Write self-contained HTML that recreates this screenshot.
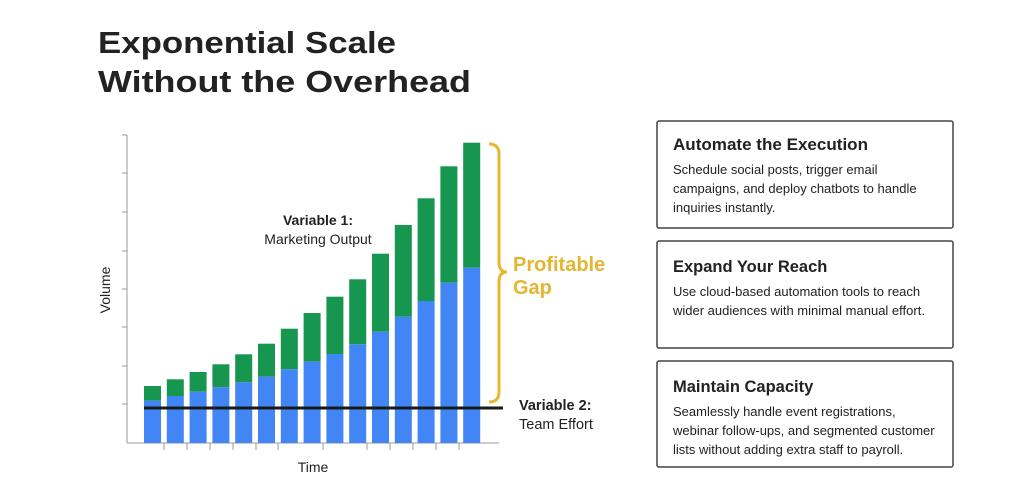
<!DOCTYPE html>
<html><head><meta charset="utf-8"><style>
html,body{margin:0;padding:0;background:#fff;}
svg{display:block;}
text{font-family:"Liberation Sans",sans-serif;}
</style></head><body>
<svg width="1024" height="494" viewBox="0 0 1024 494" xmlns="http://www.w3.org/2000/svg">
<rect width="1024" height="494" fill="#fff"/>
<text x="98" y="53" font-size="31" font-weight="bold" fill="#222" textLength="298" lengthAdjust="spacingAndGlyphs">Exponential Scale</text>
<text x="98" y="92" font-size="31" font-weight="bold" fill="#222" textLength="373" lengthAdjust="spacingAndGlyphs">Without the Overhead</text>
<g stroke="#999" stroke-width="1">
<line x1="127" y1="135" x2="127" y2="443"/>
<line x1="127" y1="443" x2="499" y2="443"/>
<line x1="122" y1="135" x2="127" y2="135"/><line x1="122" y1="173" x2="127" y2="173"/>
<line x1="122" y1="212" x2="127" y2="212"/><line x1="122" y1="251" x2="127" y2="251"/>
<line x1="122" y1="289" x2="127" y2="289"/><line x1="122" y1="327" x2="127" y2="327"/>
<line x1="122" y1="366" x2="127" y2="366"/><line x1="122" y1="404" x2="127" y2="404"/>
</g>
<g>
<rect x="144.0" y="386.0" width="17" height="14.7" fill="#17964f"/><rect x="144.0" y="400.7" width="17" height="42.3" fill="#4285f4"/>
<rect x="166.8" y="379.3" width="17" height="16.7" fill="#17964f"/><rect x="166.8" y="396.0" width="17" height="47.0" fill="#4285f4"/>
<rect x="189.6" y="372.0" width="17" height="19.7" fill="#17964f"/><rect x="189.6" y="391.7" width="17" height="51.3" fill="#4285f4"/>
<rect x="212.4" y="364.3" width="17" height="23.0" fill="#17964f"/><rect x="212.4" y="387.3" width="17" height="55.7" fill="#4285f4"/>
<rect x="235.2" y="354.3" width="17" height="28.0" fill="#17964f"/><rect x="235.2" y="382.3" width="17" height="60.7" fill="#4285f4"/>
<rect x="258.0" y="343.7" width="17" height="33.0" fill="#17964f"/><rect x="258.0" y="376.7" width="17" height="66.3" fill="#4285f4"/>
<rect x="280.8" y="328.7" width="17" height="40.6" fill="#17964f"/><rect x="280.8" y="369.3" width="17" height="73.7" fill="#4285f4"/>
<rect x="303.6" y="313.0" width="17" height="48.7" fill="#17964f"/><rect x="303.6" y="361.7" width="17" height="81.3" fill="#4285f4"/>
<rect x="326.4" y="296.7" width="17" height="57.3" fill="#17964f"/><rect x="326.4" y="354.0" width="17" height="89.0" fill="#4285f4"/>
<rect x="349.2" y="279.3" width="17" height="65.0" fill="#17964f"/><rect x="349.2" y="344.3" width="17" height="98.7" fill="#4285f4"/>
<rect x="372.0" y="253.7" width="17" height="78.0" fill="#17964f"/><rect x="372.0" y="331.7" width="17" height="111.3" fill="#4285f4"/>
<rect x="394.8" y="225.0" width="17" height="91.7" fill="#17964f"/><rect x="394.8" y="316.7" width="17" height="126.3" fill="#4285f4"/>
<rect x="417.6" y="198.3" width="17" height="102.7" fill="#17964f"/><rect x="417.6" y="301.0" width="17" height="142.0" fill="#4285f4"/>
<rect x="440.4" y="166.3" width="17" height="116.4" fill="#17964f"/><rect x="440.4" y="282.7" width="17" height="160.3" fill="#4285f4"/>
<rect x="463.2" y="142.7" width="17" height="125.0" fill="#17964f"/><rect x="463.2" y="267.7" width="17" height="175.3" fill="#4285f4"/>
</g>
<line x1="144" y1="408" x2="503" y2="408" stroke="#1a1a1a" stroke-width="3"/>
<path d="M489 144 Q499 144 499 154 L499 262 Q499 272 507 272 Q499 272 499 282 L499 392 Q499 402 489 402" fill="none" stroke="#e6b830" stroke-width="3"/>
<text x="513" y="271" font-size="20" font-weight="bold" fill="#e4b52f">Profitable</text>
<text x="513" y="294" font-size="20" font-weight="bold" fill="#e4b52f">Gap</text>
<text x="318" y="225" font-size="14" font-weight="bold" fill="#222" text-anchor="middle">Variable 1:</text>
<text x="318" y="244" font-size="14" fill="#222" text-anchor="middle">Marketing Output</text>
<text x="519" y="410" font-size="14.5" font-weight="bold" fill="#222">Variable 2:</text>
<text x="519" y="429" font-size="14.5" fill="#222">Team Effort</text>
<text transform="translate(110,290) rotate(-90)" font-size="14" fill="#222" text-anchor="middle">Volume</text>
<text x="313" y="472" font-size="14" fill="#222" text-anchor="middle">Time</text>
<g fill="#fff" stroke="#444" stroke-width="1.5">
<rect x="657" y="121" width="296" height="107" rx="2"/>
<rect x="657" y="241" width="296" height="107" rx="2"/>
<rect x="657" y="361" width="296" height="106" rx="2"/>
</g>
<g fill="#222">
<text x="673" y="150" font-size="16.5" font-weight="bold" textLength="195" lengthAdjust="spacingAndGlyphs">Automate the Execution</text>
<text x="673" y="174" font-size="13">Schedule social posts, trigger email</text>
<text x="673" y="193" font-size="13">campaigns, and deploy chatbots to handle</text>
<text x="673" y="212" font-size="13">inquiries instantly.</text>
<text x="673" y="272" font-size="16.5" font-weight="bold">Expand Your Reach</text>
<text x="673" y="296" font-size="13">Use cloud-based automation tools to reach</text>
<text x="673" y="315" font-size="13">wider audiences with minimal manual effort.</text>
<text x="673" y="392" font-size="16.5" font-weight="bold">Maintain Capacity</text>
<text x="673" y="416" font-size="13">Seamlessly handle event registrations,</text>
<text x="673" y="435" font-size="13">webinar follow-ups, and segmented customer</text>
<text x="673" y="454" font-size="13">lists without adding extra staff to payroll.</text>
</g>
<g stroke="#999" stroke-width="1">
<line x1="164" y1="443" x2="164" y2="450"/><line x1="187" y1="443" x2="187" y2="450"/>
<line x1="210" y1="443" x2="210" y2="450"/><line x1="233" y1="443" x2="233" y2="450"/>
<line x1="256" y1="443" x2="256" y2="450"/><line x1="278" y1="443" x2="278" y2="450"/>
<line x1="323" y1="443" x2="323" y2="450"/><line x1="367" y1="443" x2="367" y2="450"/>
<line x1="390" y1="443" x2="390" y2="450"/><line x1="413" y1="443" x2="413" y2="450"/>
<line x1="436" y1="443" x2="436" y2="450"/><line x1="459" y1="443" x2="459" y2="450"/>
</g>
</svg>
</body></html>
